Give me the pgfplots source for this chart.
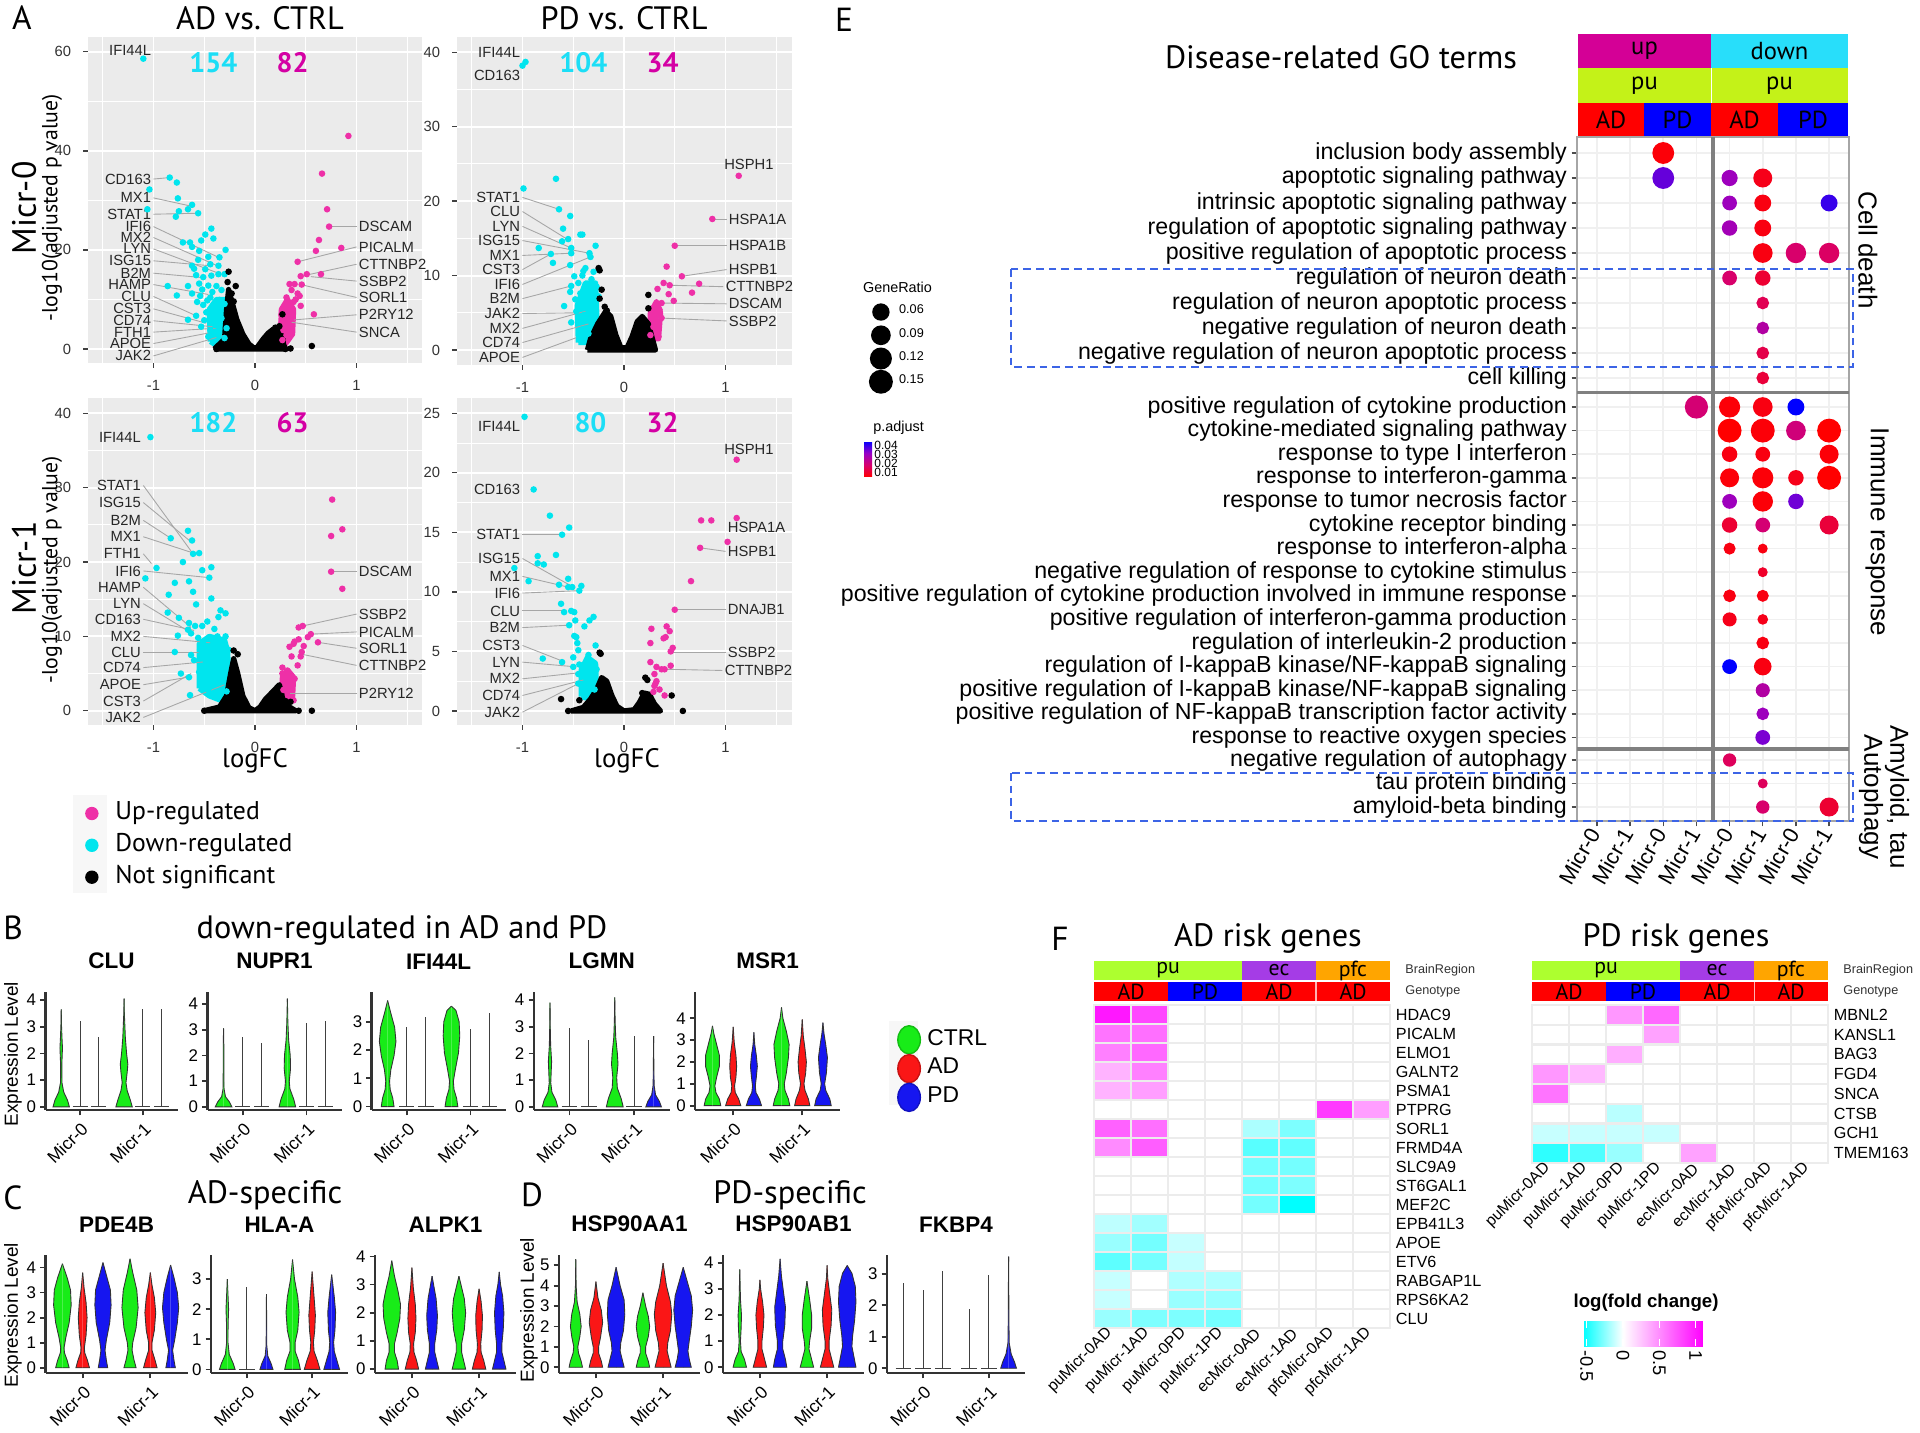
\documentclass[border=0pt]{standalone}
\usepackage{fontspec}
\setmainfont{Liberation Sans}
\newfontfamily\ptf{PT Sans}
\usepackage{pgfplots}
\pgfplotsset{compat=1.18}
\usepackage{pgfplotstable}
\newcommand{\fs}[1]{\fontsize{#1}{#1}\selectfont}
\definecolor{ggbg}{HTML}{EBEBEB}
\definecolor{cyn}{RGB}{0,229,238}
\definecolor{mgn}{RGB}{238,48,167}
\definecolor{cynT}{RGB}{28,222,246}
\definecolor{mgnT}{RGB}{212,0,164}
\definecolor{vgreen}{RGB}{24,236,24}
\definecolor{vred}{RGB}{250,22,22}
\definecolor{vblue}{RGB}{22,22,240}
\definecolor{upc}{RGB}{212,0,150}
\definecolor{dnc}{RGB}{40,222,250}
\definecolor{puc}{RGB}{196,242,24}
\definecolor{limec}{RGB}{173,255,47}
\definecolor{ecc}{RGB}{165,60,230}
\definecolor{pfcc}{RGB}{255,165,0}
\definecolor{boxblue}{RGB}{60,100,230}

\pgfplotsset{
  every axis/.append style={/pgf/number format/assume math mode=true},
  colormap={hm}{rgb255(0cm)=(0,255,255) rgb255(1cm)=(255,255,255) rgb255(3cm)=(255,0,255)},
  colormap={pr}{rgb255(0cm)=(255,0,0) rgb255(1cm)=(215,0,110) rgb255(2cm)=(150,0,200) rgb255(3cm)=(0,0,255)},
  volc/.style={scale only axis, anchor=south west, clip=false,
    axis background/.style={fill=ggbg}, axis line style={draw=none},
    grid=both, major grid style={white, line width=0.55pt}, minor grid style={white, line width=0.28pt},
    xtick={-1,0,1}, minor xtick={-1.5,-0.5,0.5,1.5}, xmin=-1.645, xmax=1.65,
    tick align=outside, major tick length=1.3pt, minor tick length=0pt,
    tick style={gray!50!black, line width=0.4pt}, tick pos=left,
    tick label style={font=\fs{4.2}, text=gray!40!black}},
  vio/.style={scale only axis, anchor=south west, height=1.18cm, xmin=0.45, xmax=2.55, clip=false,
    axis x line*=bottom, axis y line*=left, axis line style={-, line width=0.7pt, gray!40!black},
    xtick={1,2}, xticklabels={Micr-0,Micr-1},
    xticklabel style={rotate=45, anchor=north east, font=\fs{5}, inner sep=1pt},
    yticklabel style={font=\fs{4.8}, inner sep=1pt},
    tick style={line width=0.5pt, gray!40!black}, major tick length=1.5pt, tick align=outside,
    title style={font=\bfseries\fs{6.4}, yshift=-3pt}},
  hmap/.style={scale only axis, anchor=south west, width=2.96cm, xmin=0.5, xmax=8.5, ymin=0.5,
    y dir=reverse, xtick={1,...,8},
    xticklabels={puMicr-0AD,puMicr-1AD,puMicr-0PD,puMicr-1PD,ecMicr-0AD,ecMicr-1AD,pfcMicr-0AD,pfcMicr-1AD},
    xticklabel style={rotate=45, anchor=east, font=\fs{4.5}, inner sep=1pt},
    yticklabel pos=right, yticklabel style={font=\fs{4.6}, inner sep=1.5pt},
    major tick length=0pt, minor tick length=0pt,
    minor xtick={1.5,2.5,...,7.5}, xminorgrids=true, yminorgrids=true,
    minor grid style={gray!15, line width=0.6pt}, axis line style={gray!15, line width=0.6pt},
    axis on top, colormap name=hm, point meta min=-0.55, point meta max=1.1},
  cp/.style={forget plot, only marks, mark=*, mark size=0.72pt, cyn},
  mp/.style={forget plot, only marks, mark=*, mark size=0.72pt, mgn},
  bp/.style={forget plot, only marks, mark=*, mark size=0.72pt, black},
  blob/.style={forget plot, line width=1.5pt, line join=round},
}
\tikzset{
  glab/.style={font=\fs{4.2}, inner sep=0.5pt, text=black!85},
  lead/.style={gray!70, line width=0.25pt},
  num/.style={font=\ptf\bfseries\fs{8}},
}
\newcommand{\gl}[6]{\draw[lead] (axis cs:#1,#2) -- (axis cs:#3,#4); \node[glab, anchor=#6] at (axis cs:#1,#2) {#5};}
\newcommand{\gn}[4]{\node[glab, anchor=#4] at (axis cs:#1,#2) {#3};}
\newcommand{\vio}[3]{%
  \addplot[forget plot, fill=#2, draw=black!80, line width=0.25pt] table[row sep=\\, header=false, x expr={#1+\thisrowno{1}}, y index=0] {#3};
  \addplot[forget plot, fill=#2, draw=black!80, line width=0.25pt] table[row sep=\\, header=false, x expr={#1-\thisrowno{1}}, y index=0] {#3};}
\newcommand{\vln}[2]{%
  \addplot[forget plot, black!75, line width=0.3pt] table[row sep=\\, header=false, x expr={#1+\thisrowno{0}}, y index=1] {-0.12 0\\ 0.12 0\\};
  \addplot[forget plot, black!75, line width=0.3pt] table[row sep=\\, header=false, x expr={#1+\thisrowno{0}}, y index=1] {0 0\\ 0 #2\\};}

% GO dot plot: column, row position, marker radius (pt), p.adjust
\pgfplotstableread{
x y r p
3 153 2.9 0.006
3 178 2.9 0.036
5 178 2.1 0.030
6 178 2.5 0.008
5 203 1.9 0.030
6 203 2.2 0.007
8 203 2.2 0.040
5 228 2.0 0.029
6 228 2.2 0.007
6 253 2.6 0.007
7 253 2.7 0.018
8 253 2.7 0.017
5 278 1.9 0.018
6 278 2.0 0.011
6 303 1.6 0.015
6 328 1.6 0.026
6 353 1.6 0.014
6 378 1.6 0.012
4 407 3.1 0.019
5 407 2.8 0.006
6 407 2.6 0.007
7 407 2.2 0.045
5 430.6 3.2 0.005
6 430.6 3.2 0.006
7 430.6 2.6 0.020
8 430.6 3.2 0.005
5 454.2 2.0 0.007
6 454.2 1.9 0.007
8 454.2 2.5 0.006
5 477.8 2.5 0.006
6 477.8 2.8 0.006
7 477.8 2.0 0.008
8 477.8 3.2 0.005
5 501.4 1.9 0.030
6 501.4 2.7 0.006
7 501.4 2.0 0.035
5 525 2.0 0.011
6 525 1.9 0.019
8 525 2.5 0.012
5 548.6 1.5 0.007
6 548.6 1.2 0.007
6 572.2 1.2 0.010
5 595.8 1.6 0.007
6 595.8 1.5 0.007
5 619.4 1.8 0.008
6 619.4 1.3 0.008
6 643 1.6 0.007
5 666.6 1.9 0.045
6 666.6 2.3 0.007
6 690.2 1.8 0.026
6 713.8 1.6 0.030
6 737.4 1.9 0.034
5 760 1.7 0.016
6 783.5 1.2 0.016
6 807 1.7 0.018
8 807 2.5 0.011
}\godots

% AD risk genes heatmap, log fold change
\pgfplotstableread[row sep=\\]{x y v\\
1 1 1.0\\ 2 1 0.8\\ 3 1 0\\ 4 1 0\\ 5 1 0\\ 6 1 0\\ 7 1 0\\ 8 1 0\\
1 2 0.6\\ 2 2 0.62\\ 3 2 0\\ 4 2 0\\ 5 2 0\\ 6 2 0\\ 7 2 0\\ 8 2 0\\
1 3 0.55\\ 2 3 0.65\\ 3 3 0\\ 4 3 0\\ 5 3 0\\ 6 3 0\\ 7 3 0\\ 8 3 0\\
1 4 0.33\\ 2 4 0.55\\ 3 4 0\\ 4 4 0\\ 5 4 0\\ 6 4 0\\ 7 4 0\\ 8 4 0\\
1 5 0.33\\ 2 5 0.42\\ 3 5 0\\ 4 5 0\\ 5 5 0\\ 6 5 0\\ 7 5 0\\ 8 5 0\\
1 6 0\\ 2 6 0\\ 3 6 0\\ 4 6 0\\ 5 6 0\\ 6 6 0\\ 7 6 0.85\\ 8 6 0.42\\
1 7 0.68\\ 2 7 0.62\\ 3 7 0\\ 4 7 0\\ 5 7 -0.18\\ 6 7 -0.28\\ 7 7 0\\ 8 7 0\\
1 8 0.5\\ 2 8 0.7\\ 3 8 0\\ 4 8 0\\ 5 8 -0.36\\ 6 8 -0.34\\ 7 8 0\\ 8 8 0\\
1 9 0\\ 2 9 0\\ 3 9 0\\ 4 9 0\\ 5 9 -0.3\\ 6 9 -0.3\\ 7 9 0\\ 8 9 0\\
1 10 0\\ 2 10 0\\ 3 10 0\\ 4 10 0\\ 5 10 -0.3\\ 6 10 -0.28\\ 7 10 0\\ 8 10 0\\
1 11 0\\ 2 11 0\\ 3 11 0\\ 4 11 0\\ 5 11 -0.3\\ 6 11 -0.55\\ 7 11 0\\ 8 11 0\\
1 12 -0.14\\ 2 12 -0.2\\ 3 12 0\\ 4 12 0\\ 5 12 0\\ 6 12 0\\ 7 12 0\\ 8 12 0\\
1 13 -0.22\\ 2 13 -0.3\\ 3 13 -0.12\\ 4 13 0\\ 5 13 0\\ 6 13 0\\ 7 13 0\\ 8 13 0\\
1 14 -0.35\\ 2 14 -0.3\\ 3 14 -0.13\\ 4 14 0\\ 5 14 0\\ 6 14 0\\ 7 14 0\\ 8 14 0\\
1 15 -0.12\\ 2 15 0\\ 3 15 -0.17\\ 4 15 -0.17\\ 5 15 0\\ 6 15 0\\ 7 15 0\\ 8 15 0\\
1 16 -0.12\\ 2 16 0\\ 3 16 -0.22\\ 4 16 -0.22\\ 5 16 0\\ 6 16 0\\ 7 16 0\\ 8 16 0\\
1 17 -0.22\\ 2 17 -0.28\\ 3 17 -0.28\\ 4 17 -0.3\\ 5 17 0\\ 6 17 0\\ 7 17 0\\ 8 17 0\\
}\hmad

% PD risk genes heatmap
\pgfplotstableread[row sep=\\]{x y v\\
1 1 0\\ 2 1 0\\ 3 1 0.45\\ 4 1 0.65\\ 5 1 0\\ 6 1 0\\ 7 1 0\\ 8 1 0\\
1 2 0\\ 2 2 0\\ 3 2 0\\ 4 2 0.4\\ 5 2 0\\ 6 2 0\\ 7 2 0\\ 8 2 0\\
1 3 0\\ 2 3 0\\ 3 3 0.35\\ 4 3 0\\ 5 3 0\\ 6 3 0\\ 7 3 0\\ 8 3 0\\
1 4 0.45\\ 2 4 0.3\\ 3 4 0\\ 4 4 0\\ 5 4 0\\ 6 4 0\\ 7 4 0\\ 8 4 0\\
1 5 0.6\\ 2 5 0\\ 3 5 0\\ 4 5 0\\ 5 5 0\\ 6 5 0\\ 7 5 0\\ 8 5 0\\
1 6 0\\ 2 6 0\\ 3 6 -0.15\\ 4 6 0\\ 5 6 0\\ 6 6 0\\ 7 6 0\\ 8 6 0\\
1 7 -0.12\\ 2 7 -0.12\\ 3 7 -0.12\\ 4 7 -0.12\\ 5 7 0\\ 6 7 0\\ 7 7 0\\ 8 7 0\\
1 8 -0.45\\ 2 8 -0.38\\ 3 8 -0.22\\ 4 8 0\\ 5 8 0.4\\ 6 8 0\\ 7 8 0\\ 8 8 0\\
}\hmpd

\begin{document}
\begin{tikzpicture}
\useasboundingbox (0,0) rectangle (19.2,-14.32);

% ================= A: volcano plots =================
\node[font=\ptf\fs{9.5}] at (0.22,-0.18) {A};
\node[font=\ptf\fs{9.2}] at (2.60,-0.18) {AD vs. CTRL};
\node[font=\ptf\fs{9.2}] at (6.24,-0.18) {PD vs. CTRL};
\node[font=\ptf\fs{9.6}, rotate=90] at (0.24,-2.08) {Micr-0};
\node[font=\ptf\fs{6.2}, rotate=90] at (0.52,-2.08) {-log10(adjusted p value)};
\node[font=\ptf\fs{9.6}, rotate=90] at (0.24,-5.68) {Micr-1};
\node[font=\ptf\fs{6.2}, rotate=90] at (0.52,-5.70) {-log10(adjusted p value)};
\node[font=\ptf\fs{7.6}] at (2.55,-7.61) {logFC};
\node[font=\ptf\fs{7.6}] at (6.27,-7.61) {logFC};
\fill[gray!6] (0.73,-7.95) rectangle (1.07,-8.93);

% AD Micr-0
\begin{axis}[volc, at={(0.88cm,-3.63cm)}, width=3.34cm, height=3.26cm, xmax=1.645,
  ymin=-2.83, ymax=62.97, ytick={0,20,40,60}, minor ytick={10,30,50}]
\addplot[blob, fill=cyn, draw=cyn] coordinates {(-0.44,1.5) (-0.45,8) (-0.38,10) (-0.28,10) (-0.27,2) (-0.31,1) (-0.40,1) (-0.44,1.5)};
\addplot[blob, fill=mgn, draw=mgn] coordinates {(0.25,1) (0.26,8) (0.32,10) (0.38,8) (0.37,3) (0.30,1) (0.25,1)};
\addplot[blob, fill=black, draw=black] coordinates {(-0.40,0) (-0.30,2) (-0.28,8) (-0.26,12) (-0.22,9) (-0.18,6) (-0.12,3) (-0.06,1) (-0.01,0.2) (0.02,0.3) (0.08,2) (0.13,3.2) (0.18,4) (0.24,4.2) (0.27,3) (0.28,1) (0.30,0) (-0.40,0)};
\addplot[cp] coordinates {(-1.10,58.6) (-0.84,34.6) (-0.77,33.6) (-1.04,32.2) (-0.76,30.4) (-0.62,29.1) (-0.66,28.2) (-0.75,27.8) (-0.56,27.4) (-1.06,28.2) (-0.78,26.7) (-0.43,24.3) (-0.49,23.1) (-0.41,22.3) (-0.71,21.5) (-0.64,21.5) (-0.53,21.9) (-0.62,20.6) (-0.55,19.8) (-0.29,20.0) (-0.35,18.5) (-0.46,18.6) (-0.56,18.0) (-0.44,17.1) (-0.36,16.8) (-0.62,16.8) (-0.49,16.1) (-0.36,15.1) (-0.30,15.1) (-0.58,14.9) (-0.51,14.5) (-0.43,14.8) (-0.86,12.7) (-0.66,12.7) (-0.55,13.2) (-0.46,12.8) (-0.38,12.7) (-0.33,11.9) (-0.77,10.8) (-0.54,10.7) (-0.44,10.4) (-0.35,9.9) (-0.51,8.9) (-0.41,8.9) (-0.30,9.1) (-0.58,6.7) (-0.66,5.9) (-0.48,7.4) (-0.40,6.9) (-0.33,6.2) (-0.53,4.5) (-0.44,3.8) (-0.38,4.8) (-0.46,2.5) (-0.36,2.8) (-0.30,2.2) (-0.28,4.2) (-0.60,16.2) (-0.52,12.0) (-0.47,9.8) (-0.57,9.5) (-0.50,5.8) (-0.42,11.5) (-0.62,11.2)};
\addplot[mp] coordinates {(0.92,43.0) (0.66,35.4) (0.71,28.2) (0.73,24.7) (0.63,22.0) (0.60,19.8) (0.85,20.4) (0.42,17.6) (0.45,14.7) (0.51,15.1) (0.65,15.1) (0.34,13.1) (0.39,13.1) (0.46,13.0) (0.36,11.9) (0.42,11.2) (0.31,10.4) (0.44,10.7) (0.38,9.5) (0.45,8.7) (0.31,8.5) (0.35,7.5) (0.26,6.9) (0.58,7.0) (0.31,6.3) (0.36,6.2) (0.26,5.2) (0.33,4.8) (0.28,3.8) (0.31,2.8) (0.27,1.8) (0.40,10.0) (0.33,9.0)};
\addplot[bp] coordinates {(-0.26,15.6) (-0.19,12.7) (-0.23,11.2) (-0.25,10.2) (-0.21,9.6) (-0.27,13.5) (0.56,0.6) (0.35,0.1) (0.27,7.0) (-0.38,0) (0.30,0) (0.24,4.6) (0.20,4.3)};
\node[num, text=cynT] at (axis cs:-0.41,57.7) {154};
\node[num, text=mgnT] at (axis cs:0.37,57.7) {82};
\gn{-1.0}{60.2}{IFI44L}{east}
\gl{-1.0}{34.3}{-0.84}{34.6}{CD163}{east}
\gl{-1.0}{30.5}{-0.60}{28.7}{MX1}{east}
\gl{-1.0}{27.2}{-0.56}{27.4}{STAT1}{east}
\gl{-1.0}{24.7}{-0.36}{18.5}{IFI6}{east}
\gl{-1.0}{22.5}{-0.37}{16.8}{MX2}{east}
\gl{-1.0}{20.2}{-0.36}{15.3}{LYN}{east}
\gl{-1.0}{17.8}{-0.44}{16.8}{ISG15}{east}
\gl{-1.0}{15.3}{-0.51}{14.4}{B2M}{east}
\gl{-1.0}{13.0}{-0.46}{11.0}{HAMP}{east}
\gl{-1.0}{10.6}{-0.58}{6.7}{CLU}{east}
\gl{-1.0}{8.1}{-0.48}{5.2}{CST3}{east}
\gl{-1.0}{5.7}{-0.42}{4.5}{CD74}{east}
\gl{-1.0}{3.4}{-0.38}{4.2}{FTH1}{east}
\gl{-1.0}{1.1}{-0.44}{3.3}{APOE}{east}
\gl{-1.0}{-1.4}{-0.30}{2.8}{JAK2}{east}
\gl{1.0}{24.7}{0.73}{24.7}{DSCAM}{west}
\gl{1.0}{20.6}{0.42}{17.6}{PICALM}{west}
\gl{1.0}{17.1}{0.48}{14.8}{CTTNBP2}{west}
\gl{1.0}{13.7}{0.55}{14.6}{SSBP2}{west}
\gl{1.0}{10.4}{0.45}{13.0}{SORL1}{west}
\gl{1.0}{6.9}{0.34}{5.8}{P2RY12}{west}
\gl{1.0}{3.4}{0.36}{5.4}{SNCA}{west}
\end{axis}

% PD Micr-0
\begin{axis}[volc, at={(4.57cm,-3.65cm)}, width=3.35cm, height=3.28cm, xmax=1.655,
  ymin=-2.02, ymax=42.05, ytick={0,10,...,40}, minor ytick={5,15,...,35}]
\addplot[blob, fill=cyn, draw=cyn] coordinates {(-0.45,1) (-0.46,6) (-0.38,9) (-0.28,9) (-0.26,2) (-0.30,1) (-0.45,1)};
\addplot[blob, fill=mgn, draw=mgn] coordinates {(0.25,1.5) (0.26,5) (0.32,6.5) (0.36,5) (0.34,1.5) (0.25,1.5)};
\addplot[blob, fill=black, draw=black] coordinates {(-0.36,0) (-0.33,1.5) (-0.26,3.5) (-0.18,5.2) (-0.13,4.5) (-0.08,2) (-0.03,0.3) (0.03,0.3) (0.08,1.8) (0.13,3.8) (0.18,4.5) (0.24,3.5) (0.28,1.5) (0.31,0) (-0.36,0)};
\addplot[cp] coordinates {(-0.97,38.7) (-1.0,38.2) (-0.99,21.7) (-0.67,23.0) (-0.64,18.9) (-0.53,18.0) (-0.60,16.3) (-0.41,15.5) (-0.43,15.5) (-0.55,14.9) (-0.61,14.6) (-0.52,13.7) (-0.28,14.0) (-0.84,13.7) (-0.34,13.0) (-0.72,12.9) (-0.52,13.0) (-0.33,12.5) (-0.70,11.7) (-0.53,11.4) (-0.40,10.6) (-0.49,9.9) (-0.41,10.0) (-0.32,9.5) (-0.52,8.6) (-0.27,8.5) (-0.35,8.4) (-0.53,7.8) (-0.43,7.6) (-0.37,7.4) (-0.25,7.2) (-0.48,6.8) (-0.42,6.5) (-0.59,5.9) (-0.29,6.3) (-0.47,5.2) (-0.39,4.7) (-0.52,3.7) (-0.32,4.3) (-0.42,2.7) (-0.44,1.6) (-0.35,2.2) (-0.45,9.0) (-0.38,11.0) (-0.30,10.5)};
\addplot[mp] coordinates {(1.13,23.4) (0.87,17.6) (0.50,14.0) (0.42,11.2) (0.57,9.9) (0.39,9.0) (0.45,8.7) (0.74,8.9) (0.33,8.2) (0.44,7.5) (0.67,7.7) (0.49,6.6) (0.37,6.3) (0.35,5.4) (0.26,5.5) (0.37,4.3) (0.29,3.1) (0.34,1.8) (0.26,2.0) (0.31,4.6)};
\addplot[bp] coordinates {(-0.25,11.0) (-0.24,10.7) (-0.22,8.1) (-0.24,6.9) (0.24,7.4) (0.24,5.6) (-0.19,5.8) (-0.17,5.3)};
\node[num, text=cynT] at (axis cs:-0.40,38.6) {104};
\node[num, text=mgnT] at (axis cs:0.38,38.6) {34};
\gn{-1.0}{40.0}{IFI44L}{east}
\gn{-1.0}{36.9}{CD163}{east}
\gl{-1.0}{20.5}{-0.64}{18.9}{STAT1}{east}
\gl{-1.0}{18.6}{-0.55}{14.8}{CLU}{east}
\gl{-1.0}{16.6}{-0.52}{13.7}{LYN}{east}
\gl{-1.0}{14.7}{-0.34}{13.0}{ISG15}{east}
\gl{-1.0}{12.7}{-0.52}{13.0}{MX1}{east}
\gl{-1.0}{10.8}{-0.72}{12.9}{CST3}{east}
\gl{-1.0}{8.8}{-0.33}{12.5}{IFI6}{east}
\gl{-1.0}{6.9}{-0.52}{8.6}{B2M}{east}
\gl{-1.0}{4.9}{-0.45}{5.0}{JAK2}{east}
\gl{-1.0}{2.9}{-0.38}{5.2}{MX2}{east}
\gl{-1.0}{1.0}{-0.35}{3.5}{CD74}{east}
\gl{-1.0}{-1.0}{-0.44}{1.8}{APOE}{east}
\gn{1.23}{23.9}{HSPH1}{south}
\gl{1.01}{17.6}{0.87}{17.6}{HSPA1A}{west}
\gl{1.01}{14.0}{0.50}{14.0}{HSPA1B}{west}
\gl{1.01}{10.8}{0.57}{9.9}{HSPB1}{west}
\gl{0.98}{8.5}{0.45}{8.7}{CTTNBP2}{west}
\gl{1.01}{6.2}{0.38}{6.3}{DSCAM}{west}
\gl{1.01}{3.9}{0.34}{4.3}{SSBP2}{west}
\end{axis}

% AD Micr-1
\begin{axis}[volc, at={(0.88cm,-7.25cm)}, width=3.34cm, height=3.27cm, xmax=1.645,
  ymin=-1.92, ymax=42.06, ytick={0,10,...,40}, minor ytick={5,15,...,35},
  legend style={at={(-0.04,-0.19)}, anchor=north west, draw=none, fill=none, font=\ptf\fs{7.3}, row sep=-1.6pt, cells={anchor=west},
    /tikz/every odd column/.append style={column sep=3pt}},
  legend image code/.code={\draw[#1] plot coordinates {(0cm,0cm)};}]
\addplot[blob, fill=cyn, draw=cyn] coordinates {(-0.55,3) (-0.55,9) (-0.45,10) (-0.30,9.5) (-0.27,8) (-0.25,2) (-0.30,1.2) (-0.45,2) (-0.55,3)};
\addplot[blob, fill=mgn, draw=mgn] coordinates {(0.26,1.5) (0.27,4.5) (0.32,5.5) (0.38,4.5) (0.37,1.8) (0.30,1.2) (0.26,1.5)};
\addplot[blob, fill=black, draw=black] coordinates {(-0.50,0) (-0.35,0.5) (-0.28,2) (-0.24,5) (-0.21,7) (-0.17,5) (-0.12,2) (-0.06,0.4) (0.0,0) (0.05,0.5) (0.10,1.5) (0.17,2.5) (0.24,3.5) (0.26,2.5) (0.28,1) (0.40,0) (-0.50,0)};
\addplot[cp] coordinates {(-1.03,36.8) (-0.66,24.2) (-0.62,22.9) (-0.83,23.2) (-0.61,21.1) (-0.55,21.2) (-0.71,20.0) (-0.97,19.2) (-0.52,18.9) (-0.43,19.3) (-1.08,17.8) (-0.45,17.9) (-0.79,17.2) (-0.65,17.4) (-0.61,16.0) (-0.85,15.6) (-0.58,14.3) (-0.43,15.1) (-0.86,13.2) (-0.34,13.5) (-0.29,13.1) (-0.75,12.5) (-0.36,12.6) (-0.65,11.8) (-0.59,11.4) (-0.52,11.4) (-0.66,10.9) (-0.76,10.1) (-0.63,10.4) (-0.37,10.0) (-0.29,10.0) (-0.51,9.3) (-0.41,9.1) (-0.79,7.9) (-0.63,7.5) (-0.54,8.2) (-0.38,7.7) (-0.26,8.2) (-0.48,6.6) (-0.35,6.4) (-0.73,5.0) (-0.55,5.2) (-0.65,4.5) (-0.41,4.6) (-0.51,3.7) (-0.64,2.1) (-0.46,2.8) (-0.28,2.6) (-0.47,12.0) (-0.40,11.0) (-0.56,9.8) (-0.45,8.5) (-0.60,6.8) (-0.50,6.0)};
\addplot[mp] coordinates {(0.76,28.4) (0.86,24.4) (0.75,23.5) (0.75,18.7) (0.86,16.4) (0.43,11.2) (0.47,11.4) (0.55,10.3) (0.43,9.6) (0.52,9.9) (0.39,9.3) (0.34,8.6) (0.62,9.2) (0.38,9.0) (0.48,8.7) (0.46,7.9) (0.36,7.3) (0.45,7.3) (0.42,6.1) (0.27,5.8) (0.27,5.0) (0.36,4.7) (0.39,4.3) (0.31,3.9) (0.28,2.8) (0.38,1.4)};
\addplot[bp] coordinates {(-0.21,8.1) (-0.17,7.6) (0.56,0) (0.43,0) (-0.50,0) (0.35,1.2) (0.30,1.3)};
\node[num, text=cynT] at (axis cs:-0.41,38.7) {182};
\node[num, text=mgnT] at (axis cs:0.37,38.7) {63};
\gn{-1.10}{36.8}{IFI44L}{east}
\gl{-1.10}{30.3}{-0.61}{21.1}{STAT1}{east}
\gl{-1.10}{28.0}{-0.62}{22.6}{ISG15}{east}
\gl{-1.10}{25.6}{-0.83}{23.2}{B2M}{east}
\gl{-1.10}{23.4}{-0.56}{21.0}{MX1}{east}
\gl{-1.10}{21.1}{-1.02}{19.8}{FTH1}{east}
\gl{-1.10}{18.8}{-0.45}{17.9}{IFI6}{east}
\gl{-1.10}{16.6}{-0.63}{11.2}{HAMP}{east}
\gl{-1.10}{14.4}{-0.62}{10.4}{LYN}{east}
\gl{-1.10}{12.3}{-0.60}{10.8}{CD163}{east}
\gl{-1.10}{10.0}{-0.41}{9.1}{MX2}{east}
\gl{-1.10}{7.8}{-0.54}{7.8}{CLU}{east}
\gl{-1.10}{5.8}{-0.48}{6.6}{CD74}{east}
\gl{-1.10}{3.5}{-0.62}{4.6}{APOE}{east}
\gl{-1.10}{1.3}{-0.63}{5.0}{CST3}{east}
\gl{-1.10}{-0.9}{-0.30}{3.5}{JAK2}{east}
\gl{1.0}{18.7}{0.76}{18.7}{DSCAM}{west}
\gl{1.0}{13.0}{0.47}{11.4}{SSBP2}{west}
\gl{1.0}{10.6}{0.55}{10.3}{PICALM}{west}
\gl{1.0}{8.4}{0.62}{9.2}{SORL1}{west}
\gl{1.0}{6.1}{0.46}{7.6}{CTTNBP2}{west}
\gl{1.0}{2.3}{0.34}{2.3}{P2RY12}{west}
\addlegendimage{only marks, mark=*, mark size=1.7pt, mgn}\addlegendentry{Up-regulated}
\addlegendimage{only marks, mark=*, mark size=1.7pt, cyn}\addlegendentry{Down-regulated}
\addlegendimage{only marks, mark=*, mark size=1.7pt, black}\addlegendentry{Not significant}
\end{axis}

% PD Micr-1
\begin{axis}[volc, at={(4.57cm,-7.25cm)}, width=3.35cm, height=3.27cm, xmax=1.655,
  ymin=-1.18, ymax=26.28, ytick={0,5,...,25}, minor ytick={2.5,7.5,...,22.5}]
\addplot[blob, fill=cyn, draw=cyn] coordinates {(-0.42,1.2) (-0.42,3.5) (-0.36,4.5) (-0.28,4) (-0.27,1.5) (-0.33,1.0) (-0.42,1.2)};
\addplot[blob, fill=black, draw=black] coordinates {(-0.52,0) (-0.40,0.3) (-0.33,1) (-0.27,1.8) (-0.22,2.8) (-0.17,2.5) (-0.12,1.3) (-0.07,0.4) (0,0) (0.10,0.1) (0.15,0.7) (0.20,1.5) (0.25,1.4) (0.30,0.6) (0.36,0) (-0.52,0)};
\addplot[cp] coordinates {(-0.98,24.7) (-0.89,18.6) (-0.73,16.4) (-0.54,15.4) (-0.61,14.8) (-0.85,13.0) (-0.67,13.1) (-0.85,12.4) (-0.79,12.3) (-1.08,12.0) (-0.55,11.1) (-0.94,10.9) (-0.64,10.6) (-0.55,10.4) (-0.51,10.4) (-0.42,10.5) (-0.44,10.1) (-0.62,9.0) (-0.59,8.3) (-0.52,8.4) (-0.49,8.3) (-0.48,7.6) (-0.30,7.9) (-0.34,7.6) (-0.39,7.1) (-0.54,7.2) (-0.49,6.3) (-0.47,6.2) (-0.46,5.7) (-0.28,5.5) (-0.45,5.1) (-0.35,4.7) (-0.50,4.5) (-0.80,4.4) (-0.61,4.1) (-0.44,3.9) (-0.50,3.7) (-0.34,3.4) (-0.37,4.0) (-0.45,3.1) (-0.27,3.5) (-0.30,2.6) (-0.45,2.3) (-0.39,1.6) (-0.29,1.8)};
\addplot[mp] coordinates {(1.11,21.1) (0.76,16.0) (0.86,16.0) (1.11,16.2) (1.02,14.2) (0.75,13.7) (0.66,10.9) (0.50,8.5) (0.27,6.9) (0.42,7.1) (0.45,6.7) (0.41,6.2) (0.39,6.1) (0.26,5.7) (0.48,5.3) (0.46,5.0) (0.26,4.1) (0.32,3.7) (0.37,3.5) (0.40,3.5) (0.46,3.8) (0.30,3.1) (0.32,2.5) (0.30,2.1) (0.35,1.8) (0.40,1.3) (0.31,2.3) (0.29,1.6)};
\addplot[bp] coordinates {(-0.24,4.9) (-0.23,4.8) (0.21,2.8) (0.23,2.6) (-0.62,1.0) (0.47,1.3) (0.58,0) (-0.55,0) (-0.44,0.9) (0.18,1.5)};
\node[num, text=cynT] at (axis cs:-0.33,24.2) {80};
\node[num, text=mgnT] at (axis cs:0.38,24.2) {32};
\gn{-1.0}{23.9}{IFI44L}{east}
\gn{-1.0}{18.6}{CD163}{east}
\gl{-1.0}{14.8}{-0.61}{14.8}{STAT1}{east}
\gl{-1.0}{12.8}{-0.52}{10.5}{ISG15}{east}
\gl{-1.0}{11.3}{-0.55}{10.4}{MX1}{east}
\gl{-1.0}{9.9}{-0.44}{10.1}{IFI6}{east}
\gl{-1.0}{8.4}{-0.59}{8.4}{CLU}{east}
\gl{-1.0}{7.0}{-0.55}{7.2}{B2M}{east}
\gl{-1.0}{5.5}{-0.61}{4.2}{CST3}{east}
\gl{-1.0}{4.1}{-0.47}{3.7}{LYN}{east}
\gl{-1.0}{2.7}{-0.45}{3.2}{MX2}{east}
\gl{-1.0}{1.3}{-0.40}{2.6}{CD74}{east}
\gl{-1.0}{-0.1}{-0.45}{2.3}{JAK2}{east}
\gn{1.23}{21.3}{HSPH1}{south}
\gn{1.0}{15.4}{HSPA1A}{west}
\gl{1.0}{13.4}{0.75}{13.7}{HSPB1}{west}
\gl{1.0}{8.5}{0.50}{8.5}{DNAJB1}{west}
\gl{1.0}{4.9}{0.48}{4.9}{SSBP2}{west}
\gl{0.97}{3.4}{0.42}{3.5}{CTTNBP2}{west}
\end{axis}

% ================= B: violins =================
\node[font=\ptf\fs{9.5}] at (0.13,-9.28) {B};
\node[font=\ptf\fs{9.2}] at (4.02,-9.30) {down-regulated in AD and PD};
\node[font=\fs{5.4}, rotate=90] at (0.13,-10.54) {Expression Level};
\fill[gray!6] (8.89,-10.21) rectangle (9.18,-11.05);

\begin{axis}[vio, at={(0.455cm,-11.10cm)}, width=1.32cm, ymin=-0.12, ymax=4.3, ytick={0,...,4}, title={CLU}]
\vio{0.7}{vgreen}{0 0\\0 .13\\.25 .1\\.55 .04\\.9 .012\\1.6 .01\\2.2 .02\\2.6 .012\\3.1 .004\\3.65 0\\}
\vln{1.0}{3.2} \vln{1.3}{2.6}
\vio{1.7}{vgreen}{0 0\\0 .13\\.25 .1\\.6 .05\\.9 .03\\1.3 .05\\1.6 .06\\2 .04\\2.6 .02\\3.2 .01\\3.5 .004\\4.05 0\\}
\vln{2.0}{3.65} \vln{2.3}{3.65}
\end{axis}
\begin{axis}[vio, at={(2.076cm,-11.10cm)}, width=1.34cm, ymin=-0.12, ymax=4.46, ytick={0,...,4}, title={NUPR1}]
\vio{0.7}{vgreen}{0 0\\0 .13\\.2 .09\\.4 .03\\.7 .008\\1.5 .005\\2.3 .005\\3.05 0\\}
\vln{1.0}{2.7} \vln{1.3}{2.5}
\vio{1.7}{vgreen}{0 0\\0 .13\\.3 .1\\.7 .04\\1 .03\\1.5 .05\\2 .045\\2.6 .02\\3.3 .008\\4.2 0\\}
\vln{2.0}{3.25} \vln{2.3}{3.35}
\end{axis}
\begin{axis}[vio, at={(3.717cm,-11.10cm)}, width=1.34cm, ymin=-0.12, ymax=4.05, ytick={0,...,3}, title={IFI44L}]
\vio{0.7}{vgreen}{0 0\\0 .1\\.3 .08\\.6 .04\\.9 .03\\1.3 .05\\1.8 .1\\2.3 .13\\2.8 .11\\3.3 .05\\3.75 0\\}
\vln{1.0}{2.8} \vln{1.3}{3.15}
\vio{1.7}{vgreen}{0 0\\0 .1\\.3 .08\\.6 .04\\.9 .03\\1.3 .06\\1.9 .11\\2.5 .13\\3 .12\\3.4 .07\\3.55 0\\}
\vln{2.0}{2.75} \vln{2.3}{3.3}
\end{axis}
\begin{axis}[vio, at={(5.338cm,-11.10cm)}, width=1.36cm, ymin=-0.12, ymax=4.3, ytick={0,...,4}, title={LGMN}]
\vio{0.7}{vgreen}{0 0\\0 .12\\.25 .09\\.55 .03\\.9 .012\\1.4 .02\\1.7 .025\\2.3 .01\\3 .004\\3.9 0\\}
\vln{1.0}{2.95} \vln{1.3}{2.5}
\vio{1.7}{vgreen}{0 0\\0 .13\\.3 .1\\.7 .04\\1.1 .03\\1.6 .05\\2 .04\\2.6 .015\\3.2 .006\\4.1 0\\}
\vln{2.0}{2.65}
\vio{2.3}{vblue}{0 0\\0 .12\\.2 .09\\.45 .03\\.8 .008\\1.5 .004\\2.65 0\\}
\end{axis}
\begin{axis}[vio, at={(6.952cm,-11.10cm)}, width=1.45cm, ymin=-0.2, ymax=5.2, ytick={0,...,4}, title={MSR1},
  legend style={at={(1.32,0.81)}, anchor=north west, draw=none, fill=none, font=\fs{6.5}, row sep=-1.8pt, cells={anchor=west}},
  legend image code/.code={\draw[#1] plot coordinates {(0cm,0cm)};}]
\vio{0.7}{vgreen}{0 0\\0 .12\\.3 .1\\.6 .05\\.9 .035\\1.3 .06\\1.8 .1\\2.3 .1\\2.8 .06\\3.3 .02\\3.65 0\\}
\vio{1.0}{vred}{0 0\\0 .11\\.3 .08\\.6 .03\\.9 .02\\1.3 .04\\1.8 .05\\2.3 .04\\2.9 .015\\3.6 0\\}
\vio{1.3}{vblue}{0 0\\0 .11\\.3 .08\\.6 .03\\.9 .02\\1.3 .035\\1.8 .05\\2.3 .035\\2.8 .012\\3.35 0\\}
\vio{1.7}{vgreen}{0 0\\0 .12\\.3 .1\\.7 .05\\1 .04\\1.5 .07\\2.2 .1\\2.8 .11\\3.4 .07\\4 .02\\4.5 0\\}
\vio{2.0}{vred}{0 0\\0 .11\\.3 .09\\.7 .04\\1 .025\\1.5 .05\\2 .06\\2.6 .04\\3.2 .015\\3.95 0\\}
\vio{2.3}{vblue}{0 0\\0 .12\\.3 .1\\.7 .04\\1 .025\\1.5 .05\\2.2 .065\\2.8 .04\\3.3 .015\\3.8 0\\}
\addlegendimage{only marks, mark=*, mark size=3.2pt, mark options={fill=vgreen, draw=vgreen!80!black, yscale=1.25}}\addlegendentry{CTRL}
\addlegendimage{only marks, mark=*, mark size=3.2pt, mark options={fill=vred, draw=vred!80!black, yscale=1.25}}\addlegendentry{AD}
\addlegendimage{only marks, mark=*, mark size=3.2pt, mark options={fill=vblue, draw=vblue!80!black, yscale=1.25}}\addlegendentry{PD}
\end{axis}

% ================= C and D: violins =================
\node[font=\ptf\fs{9.5}] at (0.13,-11.98) {C};
\node[font=\ptf\fs{9.2}] at (2.65,-11.95) {AD-specific};
\node[font=\ptf\fs{9.5}] at (5.32,-11.95) {D};
\node[font=\ptf\fs{9.2}] at (7.90,-11.95) {PD-specific};
\node[font=\fs{5.4}, rotate=90] at (0.13,-13.15) {Expression Level};
\node[font=\fs{5.4}, rotate=90] at (5.29,-13.10) {Expression Level};

\begin{axis}[vio, at={(0.455cm,-13.73cm)}, width=1.42cm, ymin=-0.21, ymax=4.5, ytick={0,...,4}, title={PDE4B}]
\vio{0.7}{vgreen}{0 0\\0 .1\\.3 .07\\.6 .03\\.8 .025\\1.2 .05\\1.8 .1\\2.5 .13\\3.1 .12\\3.6 .07\\4.15 0\\}
\vio{1.0}{vred}{0 0\\0 .1\\.3 .07\\.6 .03\\.8 .025\\1.3 .05\\2 .065\\2.6 .05\\3.2 .02\\3.8 0\\}
\vio{1.3}{vblue}{0 0\\0 .07\\.3 .05\\.7 .03\\1.1 .05\\1.8 .1\\2.5 .12\\3.1 .11\\3.7 .05\\4.2 0\\}
\vio{1.7}{vgreen}{0 0\\0 .09\\.3 .06\\.7 .03\\1 .04\\1.6 .09\\2.4 .12\\3.1 .1\\3.8 .04\\4.35 0\\}
\vio{2.0}{vred}{0 0\\0 .1\\.3 .07\\.7 .025\\1 .025\\1.5 .06\\2.2 .08\\2.8 .06\\3.3 .025\\3.8 0\\}
\vio{2.3}{vblue}{0 0\\0 .07\\.3 .05\\.7 .03\\1.1 .06\\1.8 .1\\2.4 .12\\3 .1\\3.6 .05\\4.1 0\\}
\end{axis}
\begin{axis}[vio, at={(2.11cm,-13.73cm)}, width=1.37cm, ymin=-0.12, ymax=3.8, ytick={0,...,3}, title={HLA-A}]
\vio{0.7}{vgreen}{0 0\\0 .12\\.2 .09\\.5 .03\\.9 .01\\1.5 .012\\2 .02\\2.5 .01\\3 0\\}
\vln{1.0}{2.75}
\vio{1.3}{vblue}{0 0\\0 .1\\.2 .07\\.45 .02\\.8 .005\\2.5 0\\}
\vio{1.7}{vgreen}{0 0\\0 .12\\.3 .09\\.6 .04\\.9 .04\\1.3 .08\\1.9 .1\\2.4 .08\\3 .03\\3.65 0\\}
\vio{2.0}{vred}{0 0\\0 .12\\.3 .08\\.6 .03\\.9 .02\\1.3 .04\\1.8 .05\\2.4 .03\\3.25 0\\}
\vio{2.3}{vblue}{0 0\\0 .12\\.3 .08\\.6 .04\\.9 .03\\1.3 .05\\1.9 .06\\2.4 .04\\3.15 0\\}
\end{axis}
\begin{axis}[vio, at={(3.75cm,-13.73cm)}, width=1.41cm, ymin=-0.14, ymax=4.05, ytick={0,...,4}, title={ALPK1}]
\vio{0.7}{vgreen}{0 0\\0 .1\\.3 .08\\.6 .04\\.9 .04\\1.3 .08\\1.8 .12\\2.3 .13\\2.8 .09\\3.3 .04\\3.85 0\\}
\vio{1.0}{vred}{0 0\\0 .1\\.3 .07\\.6 .03\\.9 .025\\1.3 .05\\1.8 .06\\2.3 .05\\2.9 .02\\3.6 0\\}
\vio{1.3}{vblue}{0 0\\0 .1\\.3 .07\\.6 .04\\.9 .04\\1.4 .07\\1.9 .08\\2.5 .06\\2.9 .03\\3.3 0\\}
\vio{1.7}{vgreen}{0 0\\0 .1\\.3 .07\\.6 .04\\.9 .04\\1.4 .08\\2 .1\\2.5 .08\\3 .03\\3.3 0\\}
\vio{2.0}{vred}{0 0\\0 .1\\.3 .07\\.6 .03\\.9 .025\\1.4 .045\\1.9 .05\\2.4 .03\\2.85 0\\}
\vio{2.3}{vblue}{0 0\\0 .1\\.3 .07\\.6 .04\\.9 .04\\1.4 .06\\2 .07\\2.6 .05\\3 .02\\3.45 0\\}
\end{axis}
\begin{axis}[vio, at={(5.59cm,-13.73cm)}, width=1.41cm, ymin=-0.28, ymax=5.5, ytick={0,...,5}, title={HSP90AA1}]
\vio{0.7}{vgreen}{0 0\\0 .1\\.3 .08\\.7 .04\\1 .03\\1.5 .06\\2 .08\\2.6 .06\\3.2 .02\\4 .005\\5.3 0\\}
\vio{1.0}{vred}{0 0\\0 .1\\.3 .08\\.7 .04\\1 .04\\1.5 .07\\2.2 .1\\2.8 .08\\3.4 .03\\4.2 0\\}
\vio{1.3}{vblue}{0 0\\0 .12\\.4 .09\\.8 .06\\1.2 .07\\1.8 .11\\2.6 .13\\3.3 .12\\4 .06\\4.9 0\\}
\vio{1.7}{vgreen}{0 0\\0 .1\\.3 .08\\.7 .04\\1 .04\\1.5 .08\\2 .1\\2.5 .08\\3 .04\\3.65 0\\}
\vio{2.0}{vred}{0 0\\0 .12\\.4 .09\\.8 .06\\1.2 .07\\1.8 .11\\2.6 .13\\3.2 .11\\4 .05\\5.1 0\\}
\vio{2.3}{vblue}{0 0\\0 .12\\.4 .09\\.8 .07\\1.3 .09\\2 .12\\2.8 .14\\3.5 .12\\4.2 .06\\4.9 0\\}
\end{axis}
\begin{axis}[vio, at={(7.23cm,-13.73cm)}, width=1.41cm, ymin=-0.22, ymax=4.3, ytick={0,...,4}, title={HSP90AB1}]
\vio{0.7}{vgreen}{0 0\\0 .1\\.3 .07\\.6 .02\\1 .01\\1.5 .02\\2 .025\\2.6 .01\\3.75 0\\}
\vio{1.0}{vred}{0 0\\0 .1\\.3 .07\\.7 .03\\1 .03\\1.5 .05\\2 .06\\2.5 .04\\3 .01\\3.35 0\\}
\vio{1.3}{vblue}{0 0\\0 .1\\.3 .08\\.7 .04\\1 .04\\1.6 .07\\2.3 .08\\2.9 .05\\3.5 .02\\4.15 0\\}
\vio{1.7}{vgreen}{0 0\\0 .1\\.3 .07\\.7 .03\\1 .04\\1.5 .07\\2 .07\\2.6 .04\\3.3 0\\}
\vio{2.0}{vred}{0 0\\0 .1\\.3 .07\\.7 .03\\1 .03\\1.6 .06\\2.2 .07\\2.8 .04\\3.4 .01\\3.9 0\\}
\vio{2.3}{vblue}{0 0\\0 .13\\.4 .1\\.8 .07\\1.2 .08\\1.8 .11\\2.5 .13\\3.1 .12\\3.6 .07\\3.9 0\\}
\end{axis}
\begin{axis}[vio, at={(8.87cm,-13.73cm)}, width=1.38cm, ymin=-0.15, ymax=3.6, ytick={0,...,3}, title={FKBP4}]
\vln{0.7}{2.7} \vln{1.0}{2.5} \vln{1.3}{3.1}
\vln{1.7}{1.9} \vln{2.0}{2.95}
\vio{2.3}{vblue}{0 0\\0 .12\\.2 .09\\.45 .04\\.8 .01\\1.5 .005\\2.5 .003\\3.55 0\\}
\end{axis}

% ================= E: GO dot plot =================
\node[font=\ptf\fs{9.5}] at (8.44,-0.20) {E};
\node[font=\ptf\fs{9.2}] at (13.41,-0.57) {Disease-related GO terms};
\fill[upc] (15.78,-0.34) rectangle (17.11,-0.68);
\fill[dnc] (17.11,-0.34) rectangle (18.48,-0.68);
\fill[puc] (15.78,-0.68) rectangle (18.48,-1.03);
\draw[white, line width=0.3pt] (17.11,-0.68) -- (17.11,-1.03);
\fill[red] (15.78,-1.03) rectangle (16.44,-1.37);
\fill[blue] (16.44,-1.03) rectangle (17.11,-1.37);
\fill[red] (17.11,-1.03) rectangle (17.78,-1.37);
\fill[blue] (17.78,-1.03) rectangle (18.48,-1.37);
\begin{scope}[every node/.style={font=\ptf\fs{7}}]
\node at (16.445,-0.51) {up};
\node at (17.795,-0.51) {down};
\node at (16.445,-0.855) {pu};
\node at (17.795,-0.855) {pu};
\node at (16.11,-1.2) {AD};
\node at (16.775,-1.2) {PD};
\node at (17.445,-1.2) {AD};
\node at (18.13,-1.2) {PD};
\end{scope}

\begin{axis}[scale only axis, anchor=south west, at={(15.77cm,-8.21cm)}, width=2.72cm, height=6.84cm,
  xmin=0.4, xmax=8.6, ymin=137, ymax=821, y dir=reverse, clip=false,
  xtick={1,...,8}, xticklabels={Micr-0,Micr-1,Micr-0,Micr-1,Micr-0,Micr-1,Micr-0,Micr-1},
  xticklabel style={rotate=60, anchor=east, font=\fs{6.2}, inner sep=1pt},
  ytick={153,178,203,228,253,278,303,328,353,378,407,430.6,454.2,477.8,501.4,525,548.6,572.2,595.8,619.4,643,666.6,690.2,713.8,737.4,760,783.5,807},
  yticklabels={inclusion body assembly,apoptotic signaling pathway,intrinsic apoptotic signaling pathway,regulation of apoptotic signaling pathway,positive regulation of apoptotic process,regulation of neuron death,regulation of neuron apoptotic process,negative regulation of neuron death,negative regulation of neuron apoptotic process,cell killing,positive regulation of cytokine production,cytokine-mediated signaling pathway,response to type I interferon,response to interferon-gamma,response to tumor necrosis factor,cytokine receptor binding,response to interferon-alpha,negative regulation of response to cytokine stimulus,positive regulation of cytokine production involved in immune response,positive regulation of interferon-gamma production,regulation of interleukin-2 production,regulation of I-kappaB kinase/NF-kappaB signaling,positive regulation of I-kappaB kinase/NF-kappaB signaling,positive regulation of NF-kappaB transcription factor activity,response to reactive oxygen species,negative regulation of autophagy,tau protein binding,amyloid-beta binding},
  yticklabel style={font=\fs{6.6}, inner sep=1.2pt},
  grid=major, major grid style={gray!12, line width=0.5pt},
  axis line style={gray!70, line width=0.6pt}, tick style={gray!60!black, line width=0.4pt},
  major tick length=1.5pt, tick align=outside, tick pos=left,
  colormap name=pr, point meta min=0.005, point meta max=0.045,
  colorbar, colorbar style={at={(parent axis.north west)}, anchor=north west, xshift=-7.43cm, yshift=-3.04cm,
    scale only axis, width=0.08cm, height=0.36cm, y dir=normal, grid=none, scaled y ticks=false,
    ytick={0.01,0.02,0.03,0.04}, yticklabels={0.01,0.02,0.03,0.04},
    yticklabel style={font=\fs{3.4}, inner sep=0.5pt}, major tick length=0pt, axis line style={draw=none}},
  legend style={at={(-2.642,0.776)}, anchor=north west, draw=none, fill=none, font=\fs{3.6}, row sep=-1.4pt, cells={anchor=west}},
  legend image code/.code={\draw[#1] plot coordinates {(0cm,0cm)};}]
\addplot[forget plot, scatter, only marks, mark=*, point meta=\thisrow{p},
  visualization depends on={\thisrow{r} \as \rad},
  scatter/use mapped color={draw=mapped color, fill=mapped color},
  scatter/@pre marker code/.append style={/tikz/mark size=\rad pt}] table {\godots};
\addlegendimage{only marks, mark=*, black, mark size=2.27pt}\addlegendentry{0.06}
\addlegendimage{only marks, mark=*, black, mark size=2.6pt}\addlegendentry{0.09}
\addlegendimage{only marks, mark=*, black, mark size=2.93pt}\addlegendentry{0.12}
\addlegendimage{only marks, mark=*, black, mark size=3.2pt}\addlegendentry{0.15}
\end{axis}
\draw[gray, line width=1.1pt] (17.13,-1.37) -- (17.13,-8.21);
\draw[gray, line width=0.9pt] (15.77,-3.925) -- (18.49,-3.925);
\draw[gray, line width=0.9pt] (15.77,-7.49) -- (18.49,-7.49);
\draw[boxblue, dash pattern=on 2.2pt off 1.4pt, line width=0.55pt] (10.11,-2.69) rectangle (18.53,-3.67);
\draw[boxblue, dash pattern=on 2.2pt off 1.4pt, line width=0.55pt] (10.11,-7.73) rectangle (18.53,-8.21);
\node[rotate=-90, font=\fs{7.4}] at (18.68,-2.50) {Cell death};
\node[rotate=-90, font=\fs{7.4}] at (18.77,-5.32) {Immune response};
\node[rotate=-90, font=\fs{7.4}, align=center] at (18.84,-7.97) {Amyloid, tau\\Autophagy};
\node[font=\fs{4.1}] at (8.975,-2.87) {GeneRatio};
\node[font=\fs{4.1}, anchor=west] at (8.61,-4.28) {p.adjust};

% ================= F: heatmaps =================
\node[font=\ptf\fs{9.5}] at (10.60,-9.39) {F};
\node[font=\ptf\fs{9.2}] at (12.68,-9.38) {AD risk genes};
\node[font=\ptf\fs{9.2}] at (16.76,-9.38) {PD risk genes};
\fill[limec] (10.94,-9.61) rectangle (12.42,-9.80);
\fill[ecc] (12.42,-9.61) rectangle (13.16,-9.80);
\fill[pfcc] (13.16,-9.61) rectangle (13.90,-9.80);
\fill[red] (10.94,-9.82) rectangle (11.68,-10.01);
\fill[blue] (11.68,-9.82) rectangle (12.42,-10.01);
\fill[red] (12.42,-9.82) rectangle (13.90,-10.01);
\fill[limec] (15.32,-9.61) rectangle (16.80,-9.80);
\fill[ecc] (16.80,-9.61) rectangle (17.54,-9.80);
\fill[pfcc] (17.54,-9.61) rectangle (18.28,-9.80);
\fill[red] (15.32,-9.82) rectangle (16.06,-10.01);
\fill[blue] (16.06,-9.82) rectangle (16.80,-10.01);
\fill[red] (16.80,-9.82) rectangle (18.28,-10.01);
\draw[white!70!red, line width=0.3pt] (13.16,-9.82) -- (13.16,-10.01) (17.54,-9.82) -- (17.54,-10.01);
\begin{scope}[every node/.style={font=\ptf\fs{6.2}, inner sep=0pt}]
\node at (11.68,-9.705) {pu}; \node at (12.79,-9.705) {ec}; \node at (13.53,-9.705) {pfc};
\node at (11.31,-9.915) {AD}; \node at (12.05,-9.915) {PD}; \node at (12.79,-9.915) {AD}; \node at (13.53,-9.915) {AD};
\node at (16.06,-9.705) {pu}; \node at (17.17,-9.705) {ec}; \node at (17.91,-9.705) {pfc};
\node at (15.69,-9.915) {AD}; \node at (16.43,-9.915) {PD}; \node at (17.17,-9.915) {AD}; \node at (17.91,-9.915) {AD};
\end{scope}
\begin{scope}[every node/.style={font=\fs{3.6}, anchor=west, text=black!80}]
\node at (13.93,-9.705) {BrainRegion}; \node at (13.93,-9.915) {Genotype};
\node at (18.31,-9.705) {BrainRegion}; \node at (18.31,-9.915) {Genotype};
\end{scope}

\begin{axis}[hmap, at={(10.94cm,-13.28cm)}, height=3.23cm, ymax=17.5,
  ytick={1,...,17}, minor ytick={1.5,2.5,...,16.5},
  yticklabels={HDAC9,PICALM,ELMO1,GALNT2,PSMA1,PTPRG,SORL1,FRMD4A,SLC9A9,ST6GAL1,MEF2C,EPB41L3,APOE,ETV6,RABGAP1L,RPS6KA2,CLU}]
\addplot[matrix plot*, point meta=explicit, mesh/cols=8] table[meta=v] {\hmad};
\end{axis}
\begin{axis}[hmap, at={(15.32cm,-11.63cm)}, height=1.58cm, ymax=8.5,
  ytick={1,...,8}, minor ytick={1.5,2.5,...,7.5},
  yticklabels={MBNL2,KANSL1,BAG3,FGD4,SNCA,CTSB,GCH1,TMEM163},
  colorbar horizontal, colorbar style={at={(parent axis.south west)}, anchor=north west, xshift=0.51cm, yshift=-1.28cm,
    scale only axis, width=1.2cm, height=0.25cm, y dir=normal, x dir=normal, grid=none, scaled x ticks=false,
    xtick={-0.5,0,0.5,1}, xticklabels={-0.5,0,0.5,1},
    xticklabel style={rotate=-90, anchor=west, font=\fs{5.2}, inner sep=1pt},
    major tick length=0.07cm, tick style={white, line width=0.4pt}, axis line style={draw=none}, ytick=\empty}]
\addplot[matrix plot*, point meta=explicit, mesh/cols=8] table[meta=v] {\hmpd};
\end{axis}
\node[font=\bfseries\fs{5.3}] at (16.46,-13.03) {log(fold change)};
\end{tikzpicture}
\end{document}
